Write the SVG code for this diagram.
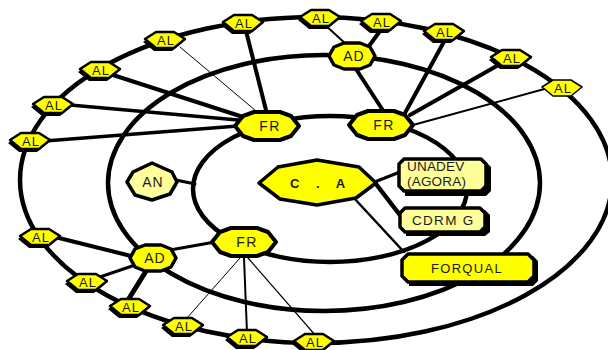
<svg xmlns="http://www.w3.org/2000/svg" width="608" height="350" viewBox="0 0 608 350">
<style>
.ring{fill:none;stroke:#000;stroke-width:4.5}
.c line{stroke:#000;stroke-linecap:round}
.y{fill:#ffff00;stroke:#000;stroke-linejoin:round}
.ly{fill:#ffff99;stroke:#000;stroke-linejoin:round}
.sh{fill:#000}
text{font-family:"Liberation Sans",Arial,sans-serif;fill:#1a1a1a;text-anchor:middle}
.al{font-size:13px;letter-spacing:1px}
.fr{font-size:14px;letter-spacing:1.5px}
.ad{font-size:14px;letter-spacing:1px}
.bx{font-size:13.5px;letter-spacing:0.2px;text-anchor:start}
</style>
<defs>
<polygon id="alp" points="-20,-1 -9,-8 9,-8 20,-1 9,8 -9,8"/>
<polygon id="frp" points="-32,0 -24,-10 -13,-14 13,-14 24,-10 32,0 24,10 13,14 -13,14 -24,10"/>
<polygon id="adp" points="-23,0 -18,-9 -8,-13 8,-13 18,-9 23,0 18,9 8,13 -8,13 -18,9"/>
</defs>
<rect width="608" height="350" fill="#fff"/>
<g id="connectors" class="c">
<ellipse class="ring" cx="316" cy="180" rx="296" ry="163"/>
<ellipse class="ring" cx="324" cy="183" rx="216" ry="128"/>
<ellipse class="ring" cx="330" cy="189" rx="137" ry="73" stroke-width="4"/>
<line x1="180" y1="47" x2="262" y2="116" stroke-width="1"/>
<line x1="245" y1="27" x2="267" y2="114" stroke-width="4"/>
<line x1="113" y1="75" x2="243" y2="117" stroke-width="4"/>
<line x1="70" y1="105" x2="238" y2="120" stroke-width="3.5"/>
<line x1="45" y1="141" x2="238" y2="126" stroke-width="3.5"/>
<line x1="354" y1="66" x2="384" y2="112" stroke-width="4"/>
<line x1="446" y1="38" x2="405" y2="113" stroke-width="4"/>
<line x1="502" y1="63" x2="410" y2="115" stroke-width="4"/>
<line x1="548" y1="88" x2="413" y2="125" stroke-width="2"/>
<line x1="324" y1="24" x2="347" y2="45" stroke-width="2"/>
<line x1="383" y1="27" x2="369" y2="46" stroke-width="4"/>
<line x1="372" y1="183" x2="400" y2="172" stroke-width="3"/>
<line x1="376" y1="184" x2="403" y2="219" stroke-width="4.5"/>
<line x1="353" y1="197" x2="404" y2="252" stroke-width="2.5"/>
<line x1="176" y1="180" x2="195" y2="184" stroke-width="3"/>
<line x1="55" y1="237" x2="135" y2="257" stroke-width="4"/>
<line x1="97" y1="278" x2="135" y2="265" stroke-width="3"/>
<line x1="128" y1="300" x2="148" y2="268" stroke-width="5"/>
<line x1="170" y1="250" x2="215" y2="242" stroke-width="3"/>
<line x1="240" y1="258" x2="187" y2="318" stroke-width="1"/>
<line x1="244" y1="258" x2="247" y2="333" stroke-width="2"/>
<line x1="248" y1="258" x2="316" y2="336" stroke-width="1.2"/>
</g>

<g id="ca">
<polygon class="y" stroke-width="3.5" points="259,183 278,167 317,160 359,167 376,183 356,198 317,205 280,199"/>
<text x="290" y="188" style="font-size:13px;font-weight:bold;letter-spacing:6.5px;text-anchor:start">C . A</text>
</g>
<g id="unadev">
<path class="sh" d="M405,162 H486 L491,167 V191 L486,196 H405 Z"/>
<path class="ly" stroke-width="3.5" d="M404,159 H481 L486,164 V186 L481,191 H404 L399,186 V164 Z"/>
<text class="bx" x="407" y="171">UNADEV</text>
<text class="bx" x="407" y="186">(AGORA)</text>
</g>
<g id="cdrmg">
<path class="sh" d="M406,210 H485 L490,215 V232 L485,236 H406 Z"/>
<path class="ly" stroke-width="3.5" d="M405,208 H480 L485,213 V227 L480,232 H405 L400,227 V213 Z"/>
<text class="bx" x="412" y="225" style="letter-spacing:1.3px">CDRM G</text>
</g>
<g id="forqual">
<path class="sh" d="M409,256 H533 L538,261 V281 L533,286 H409 Z"/>
<path class="y" stroke-width="3.5" d="M408,254 H528 L534,260 V276 L528,282 H408 L402,276 V260 Z"/>
<text x="467" y="273" style="font-size:13px;letter-spacing:1.3px">FORQUAL</text>
</g>
<g id="an">
<polygon class="ly" stroke-width="3.5" points="152,163 133,172 127,182 135,195 152,200 170,194 177,182 172,172"/>
<text x="153" y="187" class="ad">AN</text>
</g>

<g id="fr1"><use href="#frp" x="267" y="126" class="y" stroke-width="4"/><text class="fr" x="270" y="131">FR</text></g>
<g id="fr2"><use href="#frp" x="381" y="125" class="y" stroke-width="4"/><text class="fr" x="384" y="130">FR</text></g>
<g id="fr3"><use href="#frp" x="244" y="242" class="y" stroke-width="4"/><text class="fr" x="247" y="247">FR</text></g>
<g id="ad1"><use href="#adp" x="352" y="56" class="y" stroke-width="3.5"/><text class="ad" x="354" y="61">AD</text></g>
<g id="ad2"><use href="#adp" x="153" y="258" class="y" stroke-width="3.5"/><text class="ad" x="155" y="263">AD</text></g>

<g id="al1"><use href="#alp" x="163" y="43" class="sh"/><use href="#alp" x="165" y="40" class="y" stroke-width="2.5"/><text class="al" x="166" y="45">AL</text></g>
<g id="al2"><use href="#alp" x="241" y="26" class="sh"/><use href="#alp" x="243" y="23" class="y" stroke-width="2.5"/><text class="al" x="244" y="28">AL</text></g>
<g id="al3"><use href="#alp" x="318" y="21" class="sh"/><use href="#alp" x="320" y="18" class="y" stroke-width="2.5"/><text class="al" x="321" y="23">AL</text></g>
<g id="al4"><use href="#alp" x="379" y="25" class="sh"/><use href="#alp" x="381" y="22" class="y" stroke-width="2.5"/><text class="al" x="382" y="27">AL</text></g>
<g id="al5"><use href="#alp" x="442" y="35" class="sh"/><use href="#alp" x="444" y="32" class="y" stroke-width="2.5"/><text class="al" x="445" y="37">AL</text></g>
<g id="al6"><use href="#alp" x="509" y="61" class="sh"/><use href="#alp" x="511" y="58" class="y" stroke-width="2.5"/><text class="al" x="512" y="63">AL</text></g>
<g id="al7"><use href="#alp" x="562" y="88" class="y" stroke-width="1.5"/><text class="al" x="563" y="93">AL</text></g>
<g id="al8"><use href="#alp" x="98" y="73" class="sh"/><use href="#alp" x="100" y="70" class="y" stroke-width="2.5"/><text class="al" x="101" y="75">AL</text></g>
<g id="al9"><use href="#alp" x="51" y="108" class="sh"/><use href="#alp" x="53" y="105" class="y" stroke-width="2.5"/><text class="al" x="54" y="110">AL</text></g>
<g id="al10"><use href="#alp" x="28" y="144" class="sh"/><use href="#alp" x="30" y="141" class="y" stroke-width="2.5"/><text class="al" x="31" y="146">AL</text></g>
<g id="al11"><use href="#alp" x="38" y="240" class="sh"/><use href="#alp" x="40" y="237" class="y" stroke-width="2.5"/><text class="al" x="41" y="242">AL</text></g>
<g id="al12"><use href="#alp" x="85" y="285" class="sh"/><use href="#alp" x="87" y="282" class="y" stroke-width="2.5"/><text class="al" x="88" y="287">AL</text></g>
<g id="al13"><use href="#alp" x="128" y="310" class="sh"/><use href="#alp" x="130" y="307" class="y" stroke-width="2.5"/><text class="al" x="131" y="312">AL</text></g>
<g id="al14"><use href="#alp" x="181" y="329" class="sh"/><use href="#alp" x="183" y="326" class="y" stroke-width="2.5"/><text class="al" x="184" y="331">AL</text></g>
<g id="al15"><use href="#alp" x="245" y="341" class="sh"/><use href="#alp" x="247" y="338" class="y" stroke-width="2.5"/><text class="al" x="248" y="343">AL</text></g>
<g id="al16"><use href="#alp" x="312" y="345" class="sh"/><use href="#alp" x="314" y="342" class="y" stroke-width="2.5"/><text class="al" x="315" y="347">AL</text></g>
</svg>
